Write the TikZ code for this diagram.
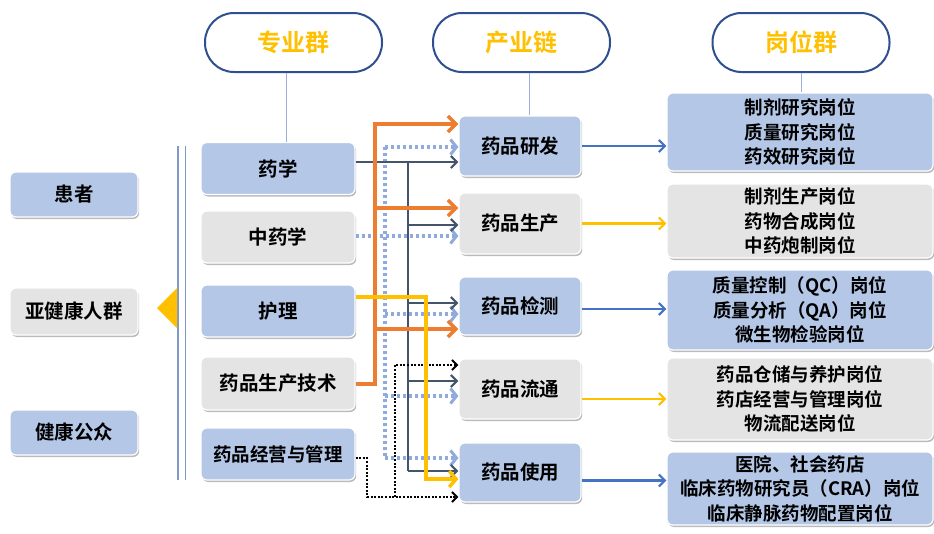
\documentclass[tikz,border=0pt]{standalone}
\usepackage{fontspec}
\setmainfont{Noto Sans CJK SC}[BoldFont={* Bold}]
\usetikzlibrary{arrows.meta, shadows}
\definecolor{boxblue}{HTML}{B4C7E7}
\definecolor{boxgray}{HTML}{E4E4E4}
\definecolor{pillblue}{HTML}{2F4F8F}
\definecolor{hdyellow}{HTML}{FFC000}
\definecolor{lnorange}{HTML}{ED7D31}
\definecolor{lnslate}{HTML}{44546A}
\definecolor{lnlight}{HTML}{8FAADC}
\definecolor{lnblue}{HTML}{4472C4}
\definecolor{lnthin}{HTML}{9DB0D6}
\tikzset{
  pill/.style={draw=pillblue, line width=2pt, fill=white, rounded corners=29pt,
    minimum width=177pt, minimum height=59pt, text=hdyellow,
    font=\bfseries\fontsize{24}{26}\selectfont},
  box/.style={rounded corners=6pt, draw=white, line width=1.2pt, inner sep=0pt,
    drop shadow={shadow xshift=1.2pt, shadow yshift=-2pt, opacity=.45, fill=black!60},
    font=\bfseries\fontsize{19.5}{22}\selectfont},
  bluebox/.style={box, fill=boxblue},
  graybox/.style={box, fill=boxgray},
  jobbox/.style={minimum width=266pt, align=center, font=\bfseries\fontsize{18.5}{24.5}\selectfont},
  thinline/.style={draw=lnthin, line width=1pt},
  orangeline/.style={draw=lnorange, line width=4pt},
  orangearr/.style={orangeline, -{Straight Barb[length=8pt,width=16pt,line width=3.6pt]}},
  slateline/.style={draw=lnslate, line width=2.2pt},
  slatearr/.style={slateline, -{Straight Barb[length=6pt,width=12pt,line width=2.2pt]}},
  lightline/.style={draw=lnlight, line width=3.2pt, dash pattern=on 3pt off 3pt},
  lightarr/.style={lightline, -{Straight Barb[length=6pt,width=15pt,line width=3pt]}},
  yellowarr/.style={draw=hdyellow, line width=3.4pt, -{Straight Barb[length=7pt,width=16pt,line width=3.4pt]}},
  blackarr/.style={draw=black, line width=2pt, dash pattern=on 2pt off 1.6pt, -{Straight Barb[length=5pt,width=10pt,line width=2pt]}},
  rightarr/.style={line width=2.2pt, -{Straight Barb[length=6pt,width=12pt,line width=2.2pt]}}
}
\begin{document}
\begin{tikzpicture}[x=1pt, y=-1pt]
  \useasboundingbox (0,0) rectangle (934,533);

  \node[pill] (hdzy) at (293.5,42.5) {专业群};
  \node[pill] (hdcy) at (521.5,42.5) {产业链};
  \node[pill] (hdgw) at (801,42.5) {岗位群};

  \node[bluebox, minimum width=128pt, minimum height=45pt] (huanzhe) at (74,194.5) {患者};
  \node[graybox, minimum width=128pt, minimum height=47pt] (yajiankang) at (74,311.5) {亚健康人群};
  \node[bluebox, minimum width=128pt, minimum height=45pt] (gongzhong) at (74,432.5) {健康公众};

  \draw[draw=lnlight!90!black, line width=1.6pt, double=white, double distance=6pt] (181.5,146) -- (181.5,480);
  \fill[hdyellow] (157,308) -- (177,288) -- (177,328) -- cycle;

  \node[bluebox, minimum width=154pt, minimum height=52pt] (yaoxue) at (278,168.5) {药学};
  \node[graybox, minimum width=154pt, minimum height=52pt] (zhongyao) at (278,237) {中药学};
  \node[bluebox, minimum width=154pt, minimum height=52pt] (huli) at (278,311) {护理};
  \node[graybox, minimum width=154pt, minimum height=53pt] (jishu) at (278,383.5) {药品生产技术};
  \node[bluebox, minimum width=154pt, minimum height=52pt, font=\bfseries\fontsize{18.5}{22}\selectfont] (jingying) at (278,454) {药品经营与管理};

  \node[bluebox, minimum width=122pt, minimum height=60pt] (yanfa) at (520,146) {药品研发};
  \node[graybox, minimum width=122pt, minimum height=61pt] (shengchan) at (520,223.5) {药品生产};
  \node[bluebox, minimum width=122pt, minimum height=58pt] (jiance) at (520,306) {药品检测};
  \node[graybox, minimum width=122pt, minimum height=60pt] (liutong) at (520,389) {药品流通};
  \node[bluebox, minimum width=122pt, minimum height=59pt] (shiyong) at (520,472.5) {药品使用};

  \node[bluebox, jobbox, minimum height=78pt] (g1) at (800,132) {制剂研究岗位\\质量研究岗位\\药效研究岗位};
  \node[graybox, jobbox, minimum height=74pt] (g2) at (800,221) {制剂生产岗位\\药物合成岗位\\中药炮制岗位};
  \node[bluebox, jobbox, minimum height=80pt] (g3) at (800,310) {质量控制（QC）岗位\\质量分析（QA）岗位\\微生物检验岗位};
  \node[graybox, jobbox, minimum height=82pt] (g4) at (800,399) {药品仓储与养护岗位\\药店经营与管理岗位\\物流配送岗位};
  \node[bluebox, jobbox, minimum height=73pt] (g5) at (800,488.5) {医院、社会药店\\临床药物研究员（CRA）岗位\\临床静脉药物配置岗位};

  \draw[thinline] ([xshift=-7pt]hdzy.south) -- ([xshift=-7pt]hdzy.south |- yaoxue.north);
  \draw[thinline] ([xshift=8pt]hdcy.south) -- ([xshift=8pt]hdcy.south |- yanfa.north);
  \draw[thinline] (hdgw.south) -- (hdgw.south |- g1.north);

  \coordinate (lb1) at (385,147);
  \coordinate (lb2) at (385,236);
  \coordinate (lb3) at (385,314);
  \coordinate (lb4) at (385,396);
  \coordinate (lb5) at (385,458);
  \draw[lightline] (lb1) -- (lb5);
  \draw[lightarr] (lb1) -- (lb1 -| yanfa.west);
  \draw[lightarr] (zhongyao.east |- lb2) -- (lb2 -| shengchan.west);
  \draw[lightarr] (lb3) -- (lb3 -| jiance.west);
  \draw[lightarr] (lb4) -- (lb4 -| liutong.west);
  \draw[lightarr] (lb5) -- (lb5 -| shiyong.west);

  \coordinate (sl1) at (408,162);
  \coordinate (sl2) at (408,225);
  \coordinate (sl3) at (408,303);
  \coordinate (sl4) at (408,381);
  \coordinate (sl5) at (408,471);
  \draw[slateline] (sl1) -- (sl5);
  \draw[slatearr] (yaoxue.east |- sl1) -- (sl1 -| yanfa.west);
  \draw[slatearr] (sl2) -- (sl2 -| shengchan.west);
  \draw[slatearr] (sl3) -- (sl3 -| jiance.west);
  \draw[slatearr] (sl4) -- (sl4 -| liutong.west);
  \draw[slatearr] (sl5) -- (sl5 -| shiyong.west);

  \coordinate (bk1) at (367,458);
  \coordinate (bk2) at (367,497);
  \coordinate (bk3) at (395,365);
  \coordinate (bk4) at (395,497);
  \draw[blackarr] (jingying.east |- bk1) -- (bk1) -- (bk2) -- (bk2 -| shiyong.west);
  \draw[blackarr] (bk4) -- (bk3) -- (bk3 -| liutong.west);

  \coordinate (or1) at (375,124);
  \coordinate (or2) at (375,208);
  \coordinate (or3) at (375,329);
  \draw[orangearr] (jishu.east) -| (or1) -- (or1 -| yanfa.west);
  \draw[orangearr] (or2) -- (or2 -| shengchan.west);
  \draw[orangearr] (or3) -- (or3 -| jiance.west);

  \coordinate (ye1) at (426,297);
  \coordinate (ye2) at (426,479);
  \draw[yellowarr] (huli.east |- ye1) -- (ye1) -- (ye2) -- (ye2 -| shiyong.west);

  \draw[rightarr, lnblue] (yanfa.east) -- (yanfa.east -| g1.west);
  \draw[rightarr, hdyellow] (shengchan.east) -- (shengchan.east -| g2.west);
  \draw[rightarr, lnblue] ([yshift=-3pt]jiance.east) -- ([yshift=-3pt]jiance.east -| g3.west);
  \draw[rightarr, hdyellow] (g4.west -| liutong.east) -- (g4.west);
  \draw[rightarr, lnblue] ([yshift=-8pt]shiyong.east) -- ([yshift=-8pt]shiyong.east -| g5.west);
\end{tikzpicture}
\end{document}
